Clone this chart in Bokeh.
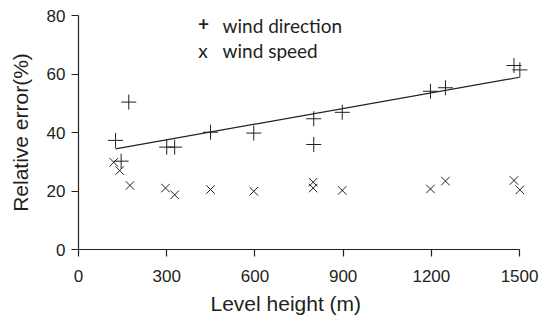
from bokeh.plotting import figure
from bokeh.models import Range1d, Label, Title
from bokeh.embed import file_html
from bokeh.resources import INLINE

# Data
dir_height = [126, 145, 171, 300, 327, 449, 596, 800, 800, 897, 1197, 1248, 1481, 1501]
dir_error = [37.3, 30.2, 50.4, 35.0, 35.0, 40.1, 39.8, 44.7, 35.9, 46.9, 54.1, 55.3, 62.9, 61.4]

spd_height = [120, 140, 175, 296, 327, 449, 596, 798, 798, 897, 1197, 1248, 1481, 1501]
spd_error = [29.8, 27.0, 21.9, 21.0, 18.7, 20.5, 19.9, 23.0, 21.0, 20.2, 20.7, 23.4, 23.6, 20.4]

fit_height = [126, 1500]
fit_error = [34.4, 58.9]

x_ticks = [0, 300, 600, 900, 1200, 1500]
y_ticks = [0, 20, 40, 60, 80]

INK = "#231f20"

p = figure(width=545, height=320, output_backend="svg", toolbar_location=None,
           x_range=Range1d(0, 1544), y_range=Range1d(0, 80),
           min_border_left=78, min_border_right=13, min_border_top=15, min_border_bottom=71)
p.outline_line_color = None
p.xgrid.visible = False
p.ygrid.visible = False
p.background_fill_color = "white"
p.border_fill_color = "white"

p.line(fit_height, fit_error, line_color=INK, line_width=1.2)
p.scatter(dir_height, dir_error, marker="cross", size=15, line_color=INK, line_width=1.0)
p.scatter(spd_height, spd_error, marker="x", size=12, line_color=INK, line_width=1.0)

for ax in (p.xaxis[0], p.yaxis[0]):
    ax.axis_line_color = INK
    ax.axis_line_width = 1.2
    ax.major_tick_line_color = INK
    ax.major_tick_line_width = 1.2
    ax.major_tick_out = 7
    ax.major_tick_in = 0
    ax.minor_tick_line_color = None
    ax.major_label_text_font = "Liberation Sans"
    ax.major_label_text_font_size = "17px"
    ax.major_label_text_color = INK
    ax.axis_label_text_font = "Liberation Sans"
    ax.axis_label_text_font_size = "21px"
    ax.axis_label_text_font_style = "normal"
    ax.axis_label_text_color = INK

p.xaxis.ticker = x_ticks
p.yaxis.ticker = y_ticks
p.xaxis.bounds = (0, 1500)
p.yaxis.axis_label = "Relative error(%)"
p.xaxis.major_label_standoff = 13
p.yaxis.major_label_standoff = 6
p.yaxis.axis_label_standoff = 12

# x-axis title, placed as in the reference (slightly left of the frame centre)
p.add_layout(Title(text="Level height (m)", align="left", offset=132, standoff=11,
                   text_font="Liberation Sans", text_font_size="21px",
                   text_font_style="normal", text_color=INK), "below")

# Legend drawn as text
leg_font = "Lato"
p.add_layout(Label(x=425, y=77.2, text="+", text_font=leg_font, text_font_size="19px",
                   text_font_style="bold", text_color=INK, text_align="center",
                   text_baseline="alphabetic"))
p.add_layout(Label(x=490, y=76.6, text="wind direction", text_font=leg_font,
                   text_font_size="19px", text_color=INK, text_baseline="alphabetic"))
p.add_layout(Label(x=423, y=68.0, text="x", text_font=leg_font, text_font_size="19px",
                   text_color=INK, text_align="center", text_baseline="alphabetic"))
p.add_layout(Label(x=490, y=68.0, text="wind speed", text_font=leg_font,
                   text_font_size="19px", text_color=INK, text_baseline="alphabetic"))

open("out.html", "w").write(file_html(p, INLINE))
